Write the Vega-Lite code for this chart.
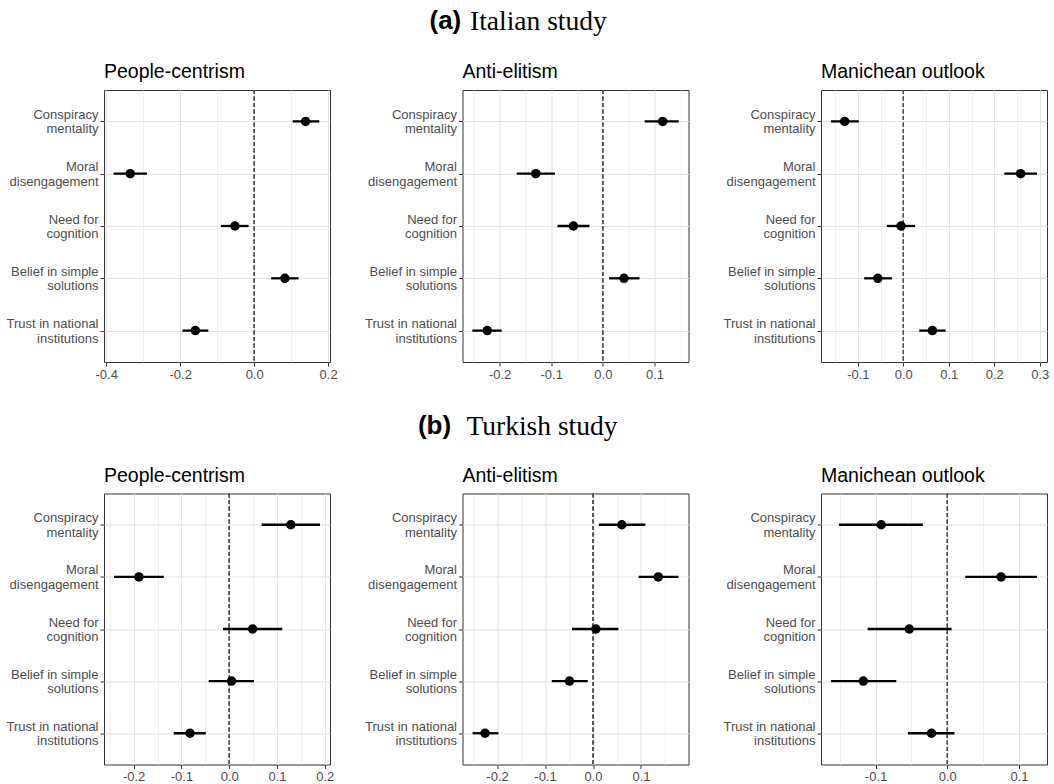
{
  "$schema": "https://vega.github.io/schema/vega-lite/v6.json",
  "background": "white",
  "padding": {"left": 5, "top": 8, "right": 2, "bottom": 0},
  "config": {
    "font": "Liberation Sans",
    "view": {"stroke": "#333333", "strokeWidth": 1},
    "axis": {"domain": false, "labelFont": "Liberation Sans", "labelFontSize": 13, "labelColor": "#4d4d4d", "tickColor": "#333333", "tickSize": 4, "tickWidth": 1, "labelPadding": 2, "gridColor": "#e3e3e3", "gridWidth": 1.1},
    "axisY": {"labelOffset": -7},
    "title": {"font": "Liberation Sans", "fontSize": 19.5, "fontWeight": "normal", "color": "black", "anchor": "start", "frame": "group", "offset": 7}
  },
  "data": {"values": [
    {"study": "Italian", "dim": "People-centrism", "pred": "Conspiracy mentality", "est": 0.139, "lo": 0.104, "hi": 0.176},
    {"study": "Italian", "dim": "People-centrism", "pred": "Moral disengagement", "est": -0.335, "lo": -0.380, "hi": -0.290},
    {"study": "Italian", "dim": "People-centrism", "pred": "Need for cognition", "est": -0.052, "lo": -0.090, "hi": -0.015},
    {"study": "Italian", "dim": "People-centrism", "pred": "Belief in simple solutions", "est": 0.083, "lo": 0.046, "hi": 0.120},
    {"study": "Italian", "dim": "People-centrism", "pred": "Trust in national institutions", "est": -0.159, "lo": -0.194, "hi": -0.124},
    {"study": "Italian", "dim": "Anti-elitism", "pred": "Conspiracy mentality", "est": 0.116, "lo": 0.081, "hi": 0.147},
    {"study": "Italian", "dim": "Anti-elitism", "pred": "Moral disengagement", "est": -0.130, "lo": -0.167, "hi": -0.093},
    {"study": "Italian", "dim": "Anti-elitism", "pred": "Need for cognition", "est": -0.057, "lo": -0.088, "hi": -0.026},
    {"study": "Italian", "dim": "Anti-elitism", "pred": "Belief in simple solutions", "est": 0.041, "lo": 0.012, "hi": 0.071},
    {"study": "Italian", "dim": "Anti-elitism", "pred": "Trust in national institutions", "est": -0.224, "lo": -0.253, "hi": -0.196},
    {"study": "Italian", "dim": "Manichean outlook", "pred": "Conspiracy mentality", "est": -0.129, "lo": -0.159, "hi": -0.098},
    {"study": "Italian", "dim": "Manichean outlook", "pred": "Moral disengagement", "est": 0.258, "lo": 0.222, "hi": 0.294},
    {"study": "Italian", "dim": "Manichean outlook", "pred": "Need for cognition", "est": -0.005, "lo": -0.036, "hi": 0.026},
    {"study": "Italian", "dim": "Manichean outlook", "pred": "Belief in simple solutions", "est": -0.056, "lo": -0.086, "hi": -0.025},
    {"study": "Italian", "dim": "Manichean outlook", "pred": "Trust in national institutions", "est": 0.064, "lo": 0.035, "hi": 0.093},
    {"study": "Turkish", "dim": "People-centrism", "pred": "Conspiracy mentality", "est": 0.129, "lo": 0.068, "hi": 0.190},
    {"study": "Turkish", "dim": "People-centrism", "pred": "Moral disengagement", "est": -0.189, "lo": -0.241, "hi": -0.137},
    {"study": "Turkish", "dim": "People-centrism", "pred": "Need for cognition", "est": 0.049, "lo": -0.013, "hi": 0.111},
    {"study": "Turkish", "dim": "People-centrism", "pred": "Belief in simple solutions", "est": 0.005, "lo": -0.043, "hi": 0.052},
    {"study": "Turkish", "dim": "People-centrism", "pred": "Trust in national institutions", "est": -0.082, "lo": -0.116, "hi": -0.049},
    {"study": "Turkish", "dim": "Anti-elitism", "pred": "Conspiracy mentality", "est": 0.060, "lo": 0.012, "hi": 0.109},
    {"study": "Turkish", "dim": "Anti-elitism", "pred": "Moral disengagement", "est": 0.136, "lo": 0.095, "hi": 0.178},
    {"study": "Turkish", "dim": "Anti-elitism", "pred": "Need for cognition", "est": 0.006, "lo": -0.044, "hi": 0.053},
    {"study": "Turkish", "dim": "Anti-elitism", "pred": "Belief in simple solutions", "est": -0.049, "lo": -0.086, "hi": -0.011},
    {"study": "Turkish", "dim": "Anti-elitism", "pred": "Trust in national institutions", "est": -0.225, "lo": -0.251, "hi": -0.197},
    {"study": "Turkish", "dim": "Manichean outlook", "pred": "Conspiracy mentality", "est": -0.092, "lo": -0.151, "hi": -0.034},
    {"study": "Turkish", "dim": "Manichean outlook", "pred": "Moral disengagement", "est": 0.075, "lo": 0.025, "hi": 0.125},
    {"study": "Turkish", "dim": "Manichean outlook", "pred": "Need for cognition", "est": -0.053, "lo": -0.111, "hi": 0.006},
    {"study": "Turkish", "dim": "Manichean outlook", "pred": "Belief in simple solutions", "est": -0.117, "lo": -0.162, "hi": -0.071},
    {"study": "Turkish", "dim": "Manichean outlook", "pred": "Trust in national institutions", "est": -0.022, "lo": -0.055, "hi": 0.010}
  ]},
  "spacing": 30.5,
  "vconcat": [
    {
      "title": {"text": "(a)", "font": "Liberation Sans", "fontWeight": "bold", "fontSize": 26, "anchor": "middle", "frame": "bounds", "offset": 2, "dx": -82, "dy": 28},
      "vconcat": [
        {
          "title": {"text": "Italian study", "font": "Liberation Serif", "fontWeight": "normal", "fontSize": 27.5, "anchor": "middle", "frame": "bounds", "offset": 26, "dx": 11},
          "bounds": "flush",
          "spacing": 132.5,
          "hconcat": [
            {
              "width": 226, "height": 272,
              "title": "People-centrism",
              "transform": [{"filter": "datum.study == 'Italian' && datum.dim == 'People-centrism'"}],
              "resolve": {"axis": {"x": "independent"}},
              "layer": [
                {"mark": {"type": "rule", "color": "#4d4d4d", "strokeWidth": 0.8, "strokeDash": [4, 2.5]},
                 "encoding": {"x": {"datum": 0, "type": "quantitative", "axis": {"orient": "top", "title": null, "values": [-0.3, -0.1, 0.1], "labels": false, "ticks": false, "domain": false, "grid": true, "gridWidth": 0.6, "gridColor": "#e6e6e6"}}}},
                {"mark": {"type": "rule", "color": "black", "strokeWidth": 2.3},
                 "encoding": {
                   "y": {"field": "pred", "type": "nominal", "sort": null, "scale": {"type": "point", "padding": 0.6, "domain": ["Conspiracy mentality", "Moral disengagement", "Need for cognition", "Belief in simple solutions", "Trust in national institutions"]}, "axis": {"title": null, "grid": true, "labelLineHeight": 14.5, "labelExpr": "datum.label == 'Conspiracy mentality' ? ['Conspiracy','mentality'] : datum.label == 'Moral disengagement' ? ['Moral','disengagement'] : datum.label == 'Need for cognition' ? ['Need for','cognition'] : datum.label == 'Belief in simple solutions' ? ['Belief in simple','solutions'] : ['Trust in national','institutions']"}},
                   "x": {"field": "lo", "type": "quantitative", "scale": {"domain": [-0.406, 0.205], "nice": false, "zero": false}, "axis": {"orient": "bottom", "title": null, "values": [-0.4, -0.2, 0, 0.2], "grid": true, "labelFlush": false, "labelOverlap": false, "labelExpr": "replace(format(datum.value, '.1f'), '\u2212', '-')"}},
                   "x2": {"field": "hi"}
                 }},
                {"mark": {"type": "circle", "color": "black", "opacity": 1, "size": 90},
                 "encoding": {
                   "y": {"field": "pred", "type": "nominal", "sort": null},
                   "x": {"field": "est", "type": "quantitative", "axis": null}
                 }}
              ]
            },
            {
              "width": 226, "height": 272,
              "title": "Anti-elitism",
              "transform": [{"filter": "datum.study == 'Italian' && datum.dim == 'Anti-elitism'"}],
              "resolve": {"axis": {"x": "independent"}},
              "layer": [
                {"mark": {"type": "rule", "color": "#4d4d4d", "strokeWidth": 0.8, "strokeDash": [4, 2.5]},
                 "encoding": {"x": {"datum": 0, "type": "quantitative", "axis": {"orient": "top", "title": null, "values": [-0.25, -0.15, -0.05, 0.05, 0.15], "labels": false, "ticks": false, "domain": false, "grid": true, "gridWidth": 0.6, "gridColor": "#e6e6e6"}}}},
                {"mark": {"type": "rule", "color": "black", "strokeWidth": 2.3},
                 "encoding": {
                   "y": {"field": "pred", "type": "nominal", "sort": null, "scale": {"type": "point", "padding": 0.6, "domain": ["Conspiracy mentality", "Moral disengagement", "Need for cognition", "Belief in simple solutions", "Trust in national institutions"]}, "axis": {"title": null, "grid": true, "labelLineHeight": 14.5, "labelExpr": "datum.label == 'Conspiracy mentality' ? ['Conspiracy','mentality'] : datum.label == 'Moral disengagement' ? ['Moral','disengagement'] : datum.label == 'Need for cognition' ? ['Need for','cognition'] : datum.label == 'Belief in simple solutions' ? ['Belief in simple','solutions'] : ['Trust in national','institutions']"}},
                   "x": {"field": "lo", "type": "quantitative", "scale": {"domain": [-0.272, 0.166], "nice": false, "zero": false}, "axis": {"orient": "bottom", "title": null, "values": [-0.2, -0.1, 0, 0.1], "grid": true, "labelFlush": false, "labelOverlap": false, "labelExpr": "replace(format(datum.value, '.1f'), '\u2212', '-')"}},
                   "x2": {"field": "hi"}
                 }},
                {"mark": {"type": "circle", "color": "black", "opacity": 1, "size": 90},
                 "encoding": {
                   "y": {"field": "pred", "type": "nominal", "sort": null},
                   "x": {"field": "est", "type": "quantitative", "axis": null}
                 }}
              ]
            },
            {
              "width": 226, "height": 272,
              "title": "Manichean outlook",
              "transform": [{"filter": "datum.study == 'Italian' && datum.dim == 'Manichean outlook'"}],
              "resolve": {"axis": {"x": "independent"}},
              "layer": [
                {"mark": {"type": "rule", "color": "#4d4d4d", "strokeWidth": 0.8, "strokeDash": [4, 2.5]},
                 "encoding": {"x": {"datum": 0, "type": "quantitative", "axis": {"orient": "top", "title": null, "values": [-0.15, -0.05, 0.05, 0.15, 0.25], "labels": false, "ticks": false, "domain": false, "grid": true, "gridWidth": 0.6, "gridColor": "#e6e6e6"}}}},
                {"mark": {"type": "rule", "color": "black", "strokeWidth": 2.3},
                 "encoding": {
                   "y": {"field": "pred", "type": "nominal", "sort": null, "scale": {"type": "point", "padding": 0.6, "domain": ["Conspiracy mentality", "Moral disengagement", "Need for cognition", "Belief in simple solutions", "Trust in national institutions"]}, "axis": {"title": null, "grid": true, "labelLineHeight": 14.5, "labelExpr": "datum.label == 'Conspiracy mentality' ? ['Conspiracy','mentality'] : datum.label == 'Moral disengagement' ? ['Moral','disengagement'] : datum.label == 'Need for cognition' ? ['Need for','cognition'] : datum.label == 'Belief in simple solutions' ? ['Belief in simple','solutions'] : ['Trust in national','institutions']"}},
                   "x": {"field": "lo", "type": "quantitative", "scale": {"domain": [-0.181, 0.316], "nice": false, "zero": false}, "axis": {"orient": "bottom", "title": null, "values": [-0.1, 0, 0.1, 0.2, 0.3], "grid": true, "labelFlush": false, "labelOverlap": false, "labelExpr": "replace(format(datum.value, '.1f'), '\u2212', '-')"}},
                   "x2": {"field": "hi"}
                 }},
                {"mark": {"type": "circle", "color": "black", "opacity": 1, "size": 90},
                 "encoding": {
                   "y": {"field": "pred", "type": "nominal", "sort": null},
                   "x": {"field": "est", "type": "quantitative", "axis": null}
                 }}
              ]
            }
          ]
        }
      ]
    },
    {
      "title": {"text": "(b)", "font": "Liberation Sans", "fontWeight": "bold", "fontSize": 26, "anchor": "middle", "frame": "bounds", "offset": 2, "dx": -92, "dy": 28},
      "vconcat": [
        {
          "title": {"text": "Turkish study", "font": "Liberation Serif", "fontWeight": "normal", "fontSize": 27.5, "anchor": "middle", "frame": "bounds", "offset": 25, "dx": 15.5},
          "bounds": "flush",
          "spacing": 132.5,
          "hconcat": [
            {
              "width": 226, "height": 271,
              "title": "People-centrism",
              "transform": [{"filter": "datum.study == 'Turkish' && datum.dim == 'People-centrism'"}],
              "resolve": {"axis": {"x": "independent"}},
              "layer": [
                {"mark": {"type": "rule", "color": "#4d4d4d", "strokeWidth": 0.8, "strokeDash": [4, 2.5]},
                 "encoding": {"x": {"datum": 0, "type": "quantitative", "axis": {"orient": "top", "title": null, "values": [-0.25, -0.15, -0.05, 0.05, 0.15], "labels": false, "ticks": false, "domain": false, "grid": true, "gridWidth": 0.6, "gridColor": "#e6e6e6"}}}},
                {"mark": {"type": "rule", "color": "black", "strokeWidth": 2.3},
                 "encoding": {
                   "y": {"field": "pred", "type": "nominal", "sort": null, "scale": {"type": "point", "padding": 0.6, "domain": ["Conspiracy mentality", "Moral disengagement", "Need for cognition", "Belief in simple solutions", "Trust in national institutions"]}, "axis": {"title": null, "grid": true, "labelLineHeight": 14.5, "labelExpr": "datum.label == 'Conspiracy mentality' ? ['Conspiracy','mentality'] : datum.label == 'Moral disengagement' ? ['Moral','disengagement'] : datum.label == 'Need for cognition' ? ['Need for','cognition'] : datum.label == 'Belief in simple solutions' ? ['Belief in simple','solutions'] : ['Trust in national','institutions']"}},
                   "x": {"field": "lo", "type": "quantitative", "scale": {"domain": [-0.262, 0.211], "nice": false, "zero": false}, "axis": {"orient": "bottom", "title": null, "values": [-0.2, -0.1, 0, 0.1, 0.2], "grid": true, "labelFlush": false, "labelOverlap": false, "labelExpr": "replace(format(datum.value, '.1f'), '\u2212', '-')"}},
                   "x2": {"field": "hi"}
                 }},
                {"mark": {"type": "circle", "color": "black", "opacity": 1, "size": 90},
                 "encoding": {
                   "y": {"field": "pred", "type": "nominal", "sort": null},
                   "x": {"field": "est", "type": "quantitative", "axis": null}
                 }}
              ]
            },
            {
              "width": 226, "height": 271,
              "title": "Anti-elitism",
              "transform": [{"filter": "datum.study == 'Turkish' && datum.dim == 'Anti-elitism'"}],
              "resolve": {"axis": {"x": "independent"}},
              "layer": [
                {"mark": {"type": "rule", "color": "#4d4d4d", "strokeWidth": 0.8, "strokeDash": [4, 2.5]},
                 "encoding": {"x": {"datum": 0, "type": "quantitative", "axis": {"orient": "top", "title": null, "values": [-0.25, -0.15, -0.05, 0.05, 0.15], "labels": false, "ticks": false, "domain": false, "grid": true, "gridWidth": 0.6, "gridColor": "#e6e6e6"}}}},
                {"mark": {"type": "rule", "color": "black", "strokeWidth": 2.3},
                 "encoding": {
                   "y": {"field": "pred", "type": "nominal", "sort": null, "scale": {"type": "point", "padding": 0.6, "domain": ["Conspiracy mentality", "Moral disengagement", "Need for cognition", "Belief in simple solutions", "Trust in national institutions"]}, "axis": {"title": null, "grid": true, "labelLineHeight": 14.5, "labelExpr": "datum.label == 'Conspiracy mentality' ? ['Conspiracy','mentality'] : datum.label == 'Moral disengagement' ? ['Moral','disengagement'] : datum.label == 'Need for cognition' ? ['Need for','cognition'] : datum.label == 'Belief in simple solutions' ? ['Belief in simple','solutions'] : ['Trust in national','institutions']"}},
                   "x": {"field": "lo", "type": "quantitative", "scale": {"domain": [-0.272, 0.199], "nice": false, "zero": false}, "axis": {"orient": "bottom", "title": null, "values": [-0.2, -0.1, 0, 0.1], "grid": true, "labelFlush": false, "labelOverlap": false, "labelExpr": "replace(format(datum.value, '.1f'), '\u2212', '-')"}},
                   "x2": {"field": "hi"}
                 }},
                {"mark": {"type": "circle", "color": "black", "opacity": 1, "size": 90},
                 "encoding": {
                   "y": {"field": "pred", "type": "nominal", "sort": null},
                   "x": {"field": "est", "type": "quantitative", "axis": null}
                 }}
              ]
            },
            {
              "width": 226, "height": 271,
              "title": "Manichean outlook",
              "transform": [{"filter": "datum.study == 'Turkish' && datum.dim == 'Manichean outlook'"}],
              "resolve": {"axis": {"x": "independent"}},
              "layer": [
                {"mark": {"type": "rule", "color": "#4d4d4d", "strokeWidth": 0.8, "strokeDash": [4, 2.5]},
                 "encoding": {"x": {"datum": 0, "type": "quantitative", "axis": {"orient": "top", "title": null, "values": [-0.15, -0.05, 0.05], "labels": false, "ticks": false, "domain": false, "grid": true, "gridWidth": 0.6, "gridColor": "#e6e6e6"}}}},
                {"mark": {"type": "rule", "color": "black", "strokeWidth": 2.3},
                 "encoding": {
                   "y": {"field": "pred", "type": "nominal", "sort": null, "scale": {"type": "point", "padding": 0.6, "domain": ["Conspiracy mentality", "Moral disengagement", "Need for cognition", "Belief in simple solutions", "Trust in national institutions"]}, "axis": {"title": null, "grid": true, "labelLineHeight": 14.5, "labelExpr": "datum.label == 'Conspiracy mentality' ? ['Conspiracy','mentality'] : datum.label == 'Moral disengagement' ? ['Moral','disengagement'] : datum.label == 'Need for cognition' ? ['Need for','cognition'] : datum.label == 'Belief in simple solutions' ? ['Belief in simple','solutions'] : ['Trust in national','institutions']"}},
                   "x": {"field": "lo", "type": "quantitative", "scale": {"domain": [-0.176, 0.139], "nice": false, "zero": false}, "axis": {"orient": "bottom", "title": null, "values": [-0.1, 0, 0.1], "grid": true, "labelFlush": false, "labelOverlap": false, "labelExpr": "replace(format(datum.value, '.1f'), '\u2212', '-')"}},
                   "x2": {"field": "hi"}
                 }},
                {"mark": {"type": "circle", "color": "black", "opacity": 1, "size": 90},
                 "encoding": {
                   "y": {"field": "pred", "type": "nominal", "sort": null},
                   "x": {"field": "est", "type": "quantitative", "axis": null}
                 }}
              ]
            }
          ]
        }
      ]
    }
  ]
}
